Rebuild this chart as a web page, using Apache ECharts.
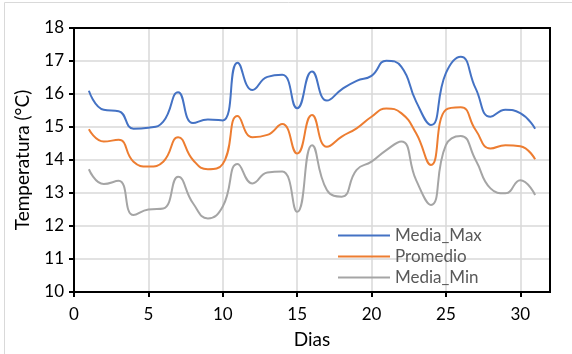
<!DOCTYPE html>
<html>
<head>
<meta charset="utf-8">
<script src="https://cdn.jsdelivr.net/npm/echarts@6/dist/echarts.min.js"></script>
<style>
  html, body { margin: 0; padding: 0; background: #fff; }
  #chart { width: 572px; height: 354px; }
</style>
</head>
<body>
<div id="chart"></div>
<script>
// dias del mes
const dias = [1, 2, 3, 4, 5, 6, 7, 8, 9, 10, 11, 12, 13, 14, 15, 16,
  17, 18, 19, 20, 21, 22, 23, 24, 25, 26, 27, 28, 29, 30, 31];

const mediaMax = [16.10, 15.52, 15.48, 14.95, 14.98, 15.16, 16.05, 15.12, 15.23, 15.20,
  16.95, 16.12, 16.52, 16.58, 15.57, 16.68, 15.80, 16.14, 16.40, 16.55,
  17.01, 16.83, 15.77, 15.06, 16.63, 17.13, 16.17, 15.31, 15.52, 15.42, 14.95];

const promedio = [14.93, 14.56, 14.61, 13.95, 13.80, 13.95, 14.69, 14.00, 13.72, 13.88,
  15.33, 14.69, 14.76, 15.09, 14.20, 15.36, 14.40, 14.71, 14.96, 15.31,
  15.56, 15.42, 14.81, 13.85, 15.52, 15.60, 14.91, 14.35, 14.45, 14.42, 14.02];

const mediaMin = [13.72, 13.27, 13.37, 12.33, 12.50, 12.53, 13.49, 12.69, 12.23, 12.59,
  13.88, 13.29, 13.62, 13.65, 12.43, 14.45, 13.09, 12.89, 13.70, 13.95,
  14.30, 14.56, 13.39, 12.64, 14.45, 14.73, 14.00, 13.14, 12.99, 13.39, 12.94];

const FONT = 'Lato, "Open Sans", sans-serif';

function serie(name, values, color) {
  return {
    name: name,
    type: 'line',
    smooth: 0.5,
    symbol: 'none',
    z: 3,
    data: dias.map((d, i) => [d, values[i]]),
    lineStyle: { color: color, width: 2 },
    itemStyle: { color: color }
  };
}

const chart = echarts.init(document.getElementById('chart'));
chart.setOption({
  animation: false,
  graphic: [{
    type: 'rect',
    shape: { x: 4.5, y: 2.5, width: 580, height: 360 },
    style: { fill: 'none', stroke: '#d9d9d9', lineWidth: 1 }
  }],
  grid: {
    left: 74, right: 22, top: 28, bottom: 62,
    show: true, borderColor: '#000', borderWidth: 2, z: 4
  },
  legend: {
    orient: 'vertical',
    left: 333, top: 222,
    icon: 'rect',
    itemWidth: 52, itemHeight: 2,
    itemGap: 4,
    textStyle: { fontFamily: FONT, fontSize: 17, color: '#595959', lineHeight: 17 },
    data: ['Media_Max', 'Promedio', 'Media_Min']
  },
  xAxis: {
    type: 'value',
    min: 0, max: 32, interval: 5,
    name: 'Dias', nameLocation: 'middle', nameGap: 38,
    nameTextStyle: { fontFamily: FONT, fontSize: 19, color: '#000' },
    axisLine: { lineStyle: { color: '#000', width: 2 } },
    axisTick: { show: true, length: 5, lineStyle: { color: '#000', width: 2 } },
    axisLabel: {
      fontFamily: FONT, fontSize: 17, color: '#000', margin: 14,
      showMaxLabel: false
    },
    splitLine: { show: true, showMinLine: false, showMaxLine: false,
      lineStyle: { color: '#d9d9d9', width: 1.5 } }
  },
  yAxis: {
    type: 'value',
    min: 10, max: 18, interval: 1,
    name: 'Temperatura (°C)', nameLocation: 'middle', nameGap: 42,
    nameTextStyle: { fontFamily: FONT, fontSize: 19, color: '#000' },
    axisLine: { show: true, lineStyle: { color: '#000', width: 2 } },
    axisTick: { show: true, length: 5, lineStyle: { color: '#000', width: 2 } },
    axisLabel: { fontFamily: FONT, fontSize: 17, color: '#000', margin: 10 },
    splitLine: { show: true, showMinLine: false, showMaxLine: false,
      lineStyle: { color: '#d9d9d9', width: 1.5 } }
  },
  series: [
    serie('Media_Max', mediaMax, '#4472c4'),
    serie('Promedio', promedio, '#ed7d31'),
    serie('Media_Min', mediaMin, '#a5a5a5')
  ]
});
</script>
</body>
</html>
